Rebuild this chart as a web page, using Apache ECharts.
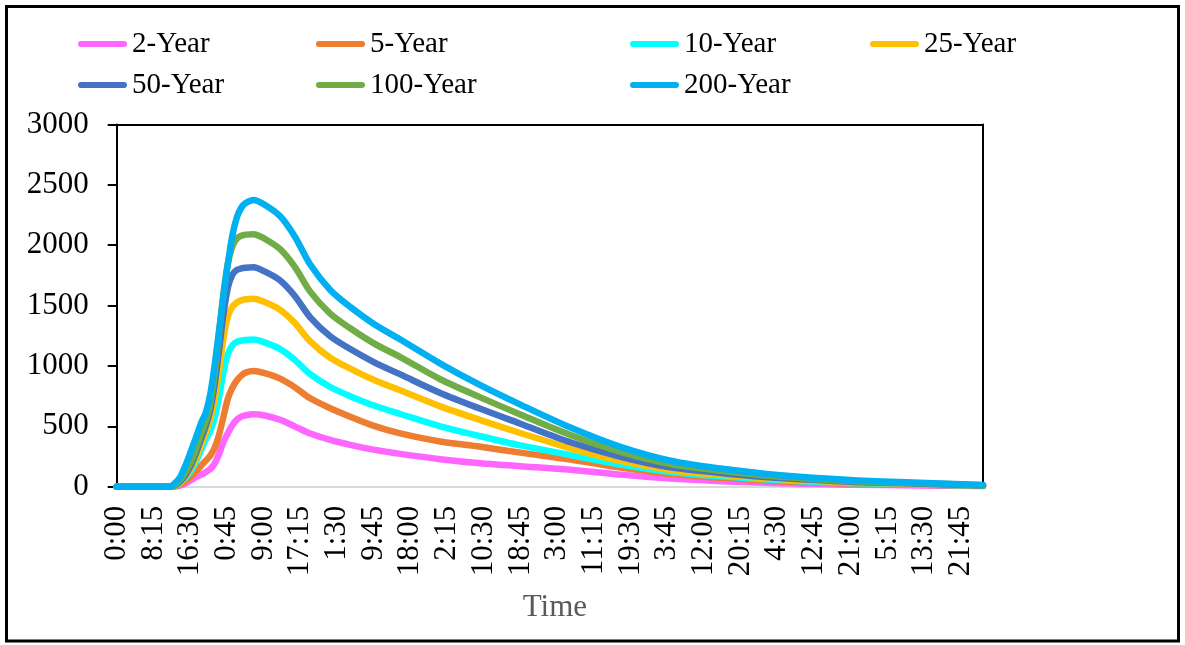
<!DOCTYPE html>
<html><head><meta charset="utf-8">
<script src="https://cdn.jsdelivr.net/npm/echarts@6/dist/echarts.min.js"></script>
<style>html,body{margin:0;padding:0;background:#fff}#c{width:1185px;height:645px}</style>
</head><body><div id="c"></div>
<script>
// x positions are 15-minute time steps from the start (0 = 0:00)
const steps = [0, 44, 48, 52, 57, 62, 67, 71, 76, 80, 84, 88, 92, 96, 100, 104, 108, 112, 116, 123,
  133, 147, 160, 174, 192, 210, 232, 255, 291, 327, 363, 408, 453, 498, 543, 597, 659, 722, 779];
const xTickLabels = ['0:00','8:15','16:30','0:45','9:00','17:15','1:30','9:45','18:00','2:15','10:30','18:45',
  '3:00','11:15','19:30','3:45','12:00','20:15','4:30','12:45','21:00','5:15','13:30','21:45'];
const seriesNames = ['2-Year','5-Year','10-Year','25-Year','50-Year','100-Year','200-Year'];
const y2   = [0,0,0,0,8,28,55,78,100,120,145,190,270,370,445,510,555,580,592,600,
  590,555,500,440,388,347,305,272,228,194,170,140,100,67,46,28,17,10,5];
const y5   = [0,0,0,3,20,48,88,125,175,215,255,320,430,580,730,820,880,920,945,958,
  940,895,825,732,650,580,502,442,374,331,282,225,158,105,74,45,27,16,7];
const y10  = [0,0,0,5,28,75,135,200,305,390,460,570,740,950,1100,1170,1200,1210,1216,1219,
  1195,1140,1052,932,826,750,670,602,500,418,342,262,183,122,86,53,31,18,8];
const y25  = [0,0,0,6,33,85,158,230,350,450,560,720,960,1230,1410,1490,1525,1543,1552,1557,
  1530,1465,1357,1204,1068,978,882,798,665,552,445,318,214,139,99,61,36,22,9];
const y50  = [0,0,0,9,42,100,182,270,400,500,630,840,1130,1430,1650,1755,1795,1808,1814,1817,
  1783,1708,1582,1403,1246,1140,1028,930,776,645,522,368,248,160,114,71,42,25,10];
const y100 = [0,0,0,12,55,120,210,305,440,540,680,930,1260,1600,1850,1990,2055,2078,2088,2092,
  2054,1967,1822,1616,1434,1312,1183,1074,890,740,598,428,288,187,132,82,48,29,12];
const y200 = [0,0,0,25,80,180,300,400,530,610,760,1000,1290,1580,1850,2080,2230,2310,2350,2375,
  2335,2240,2075,1840,1630,1489,1343,1219,1020,841,680,490,330,215,150,94,55,33,14];
const yTicks = [0, 3000, 500];

const seriesValues = [y2, y5, y10, y25, y50, y100, y200];
const colors = ['#FF66FF','#ED7D31','#00FFFF','#FFC000','#4472C4','#70AD47','#00B0F0'];
const legendLayout = [[78,28],[316,28],[630,28],[870,28],[78,69],[316,69],[630,69]];
const FONT = 'Liberation Serif';

const chart = echarts.init(document.getElementById('c'), null, {renderer:'canvas'});
const option = {
  animation: false,
  backgroundColor: '#fff',
  graphic: [{type:'rect', shape:{x:6.5, y:6.5, width:1172, height:634.5},
    style:{fill:'none', stroke:'#000', lineWidth:3}, z:100}],
  legend: seriesNames.map((n, i) => ({
    data: [n], left: legendLayout[i][0], top: legendLayout[i][1], padding: 0,
    itemWidth: 49, itemHeight: 6, selectedMode: false,
    icon: 'path://M3,0H46A3,3 0 0 1 46,6H3A3,3 0 0 1 3,0Z',
    textStyle: {fontFamily: FONT, fontSize: 29, color: '#000', lineHeight: 32}
  })),
  grid: {left: 116.7, top: 124.5, width: 866.3, height: 362.2, containLabel: false},
  xAxis: [{
    type: 'value', min: 0, max: steps[steps.length-1], interval: 33,
    axisLine: {show: true, onZero: false, lineStyle: {color: '#D9D9D9', width: 2}},
    axisTick: {show: false}, splitLine: {show: false},
    axisLabel: {rotate: 90, margin: 19, fontFamily: FONT, fontSize: 31, color: '#000',
      formatter: v => { const k = v / 33; return (Number.isInteger(k) && k < xTickLabels.length) ? xTickLabels[k] : ''; }},
    name: 'Time', nameLocation: 'middle', nameGap: 106,
    nameTextStyle: {fontFamily: FONT, fontSize: 31, color: '#595959', padding: [0,0,0,10]}
  }, {
    type: 'value', position: 'top', min: 0, max: steps[steps.length-1],
    axisLine: {show: true, onZero: false, lineStyle: {color: '#000', width: 2}},
    axisTick: {show: false}, axisLabel: {show: false}, splitLine: {show: false}
  }],
  yAxis: [{
    type: 'value', min: yTicks[0], max: yTicks[1], interval: yTicks[2],
    axisLine: {show: true, onZero: false, lineStyle: {color: '#000', width: 2}},
    axisTick: {show: true, length: 9, lineStyle: {color: '#000', width: 2}},
    splitLine: {show: false},
    axisLabel: {margin: 28, fontFamily: FONT, fontSize: 31, color: '#000', formatter: v => String(v)}
  }, {
    type: 'value', position: 'right', min: yTicks[0], max: yTicks[1],
    axisLine: {show: true, onZero: false, lineStyle: {color: '#000', width: 2}},
    axisTick: {show: false}, axisLabel: {show: false}, splitLine: {show: false}
  }],
  series: seriesNames.map((n, i) => ({
    name: n, type: 'line', xAxisIndex: 0, yAxisIndex: 0,
    data: steps.map((s, j) => [s, seriesValues[i][j]]),
    symbol: 'none', smooth: 0.3, color: colors[i],
    lineStyle: {width: 6.5, color: colors[i], cap: 'round', join: 'round'}
  }))
};
chart.setOption(option);
</script></body></html>
